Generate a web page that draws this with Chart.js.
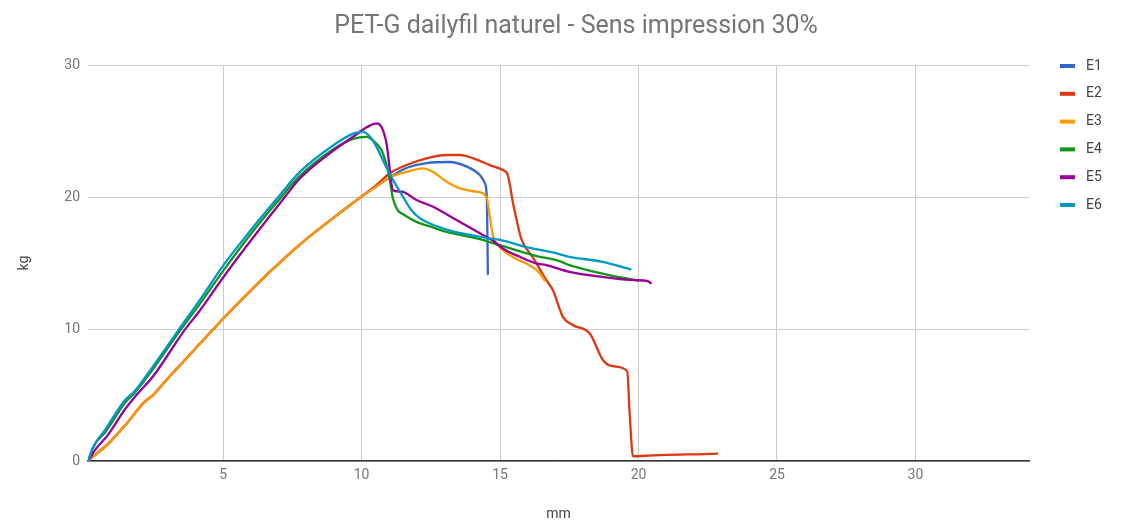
<!DOCTYPE html>
<html>
<head>
<meta charset="utf-8">
<script src="https://cdn.jsdelivr.net/npm/chart.js@4/dist/chart.umd.min.js"></script>
<style>
body { margin: 0; background: #fff; }
</style>
</head>
<body>
<canvas id="myChart" width="1125" height="530"></canvas>
<script>
const chartTitle = 'PET-G dailyfil naturel - Sens impression 30%'
const seriesNames = ['E1', 'E2', 'E3', 'E4', 'E5', 'E6']
const seriesColors = ['#3366cc', '#dc3912', '#ff9900', '#109618', '#990099', '#0099c6']
const xTicks = [5, 10, 15, 20, 25, 30]
const yTicks = [0, 10, 20, 30]

// mm / kg readings per sample
const e1X = [0.12, 0.45, 0.85, 1.5, 2.17, 2.45, 3.0, 3.62, 4.65, 5.4, 6.57, 7.77, 8.97, 9.94, 10.5, 11.02, 11.62, 12.35, 13.18, 13.8, 14.27, 14.45, 14.52, 14.56]
const e1Y = [0, 0.6, 1.3, 2.8, 4.5, 4.95, 6.25, 7.65, 10.0, 11.65, 14.1, 16.4, 18.4, 19.95, 20.75, 21.5, 22.2, 22.57, 22.65, 22.3, 21.66, 21.05, 20.0, 14.1]

const e2X = [0.12, 0.45, 0.85, 1.5, 2.17, 2.45, 3.0, 3.62, 4.65, 5.4, 6.57, 7.77, 8.97, 9.94, 10.5, 11.02, 11.62, 12.34, 13.07, 13.55, 14.03, 14.63, 15.1, 15.28, 15.47, 15.6, 15.77, 16.19, 16.67, 16.91, 17.27, 17.64, 18.24, 18.72, 19.08, 19.59, 19.68, 19.8, 20.52, 21.5, 22.0, 22.87]
const e2Y = [0, 0.6, 1.3, 2.8, 4.5, 4.95, 6.25, 7.65, 10.0, 11.65, 14.1, 16.4, 18.4, 19.95, 20.85, 21.8, 22.42, 22.93, 23.18, 23.18, 22.93, 22.42, 22.04, 21.66, 19.5, 18.25, 16.8, 15.4, 13.7, 12.94, 10.92, 10.29, 9.66, 7.63, 7.18, 6.82, 3.59, 0.36, 0.43, 0.49, 0.5, 0.56]

const e3X = [0.12, 0.45, 0.85, 1.5, 2.17, 2.45, 3.0, 3.62, 4.65, 5.4, 6.57, 7.77, 8.97, 9.94, 10.5, 11.02, 11.62, 12.22, 12.58, 13.07, 13.55, 14.15, 14.51, 14.63, 14.75, 14.99, 15.5, 16.0, 16.3, 16.55, 16.62]
const e3Y = [0, 0.6, 1.3, 2.8, 4.5, 4.95, 6.25, 7.65, 10.0, 11.65, 14.1, 16.4, 18.4, 19.95, 20.75, 21.5, 21.9, 22.17, 21.9, 21.15, 20.65, 20.4, 20.0, 18.5, 17.0, 16.22, 15.4, 14.9, 14.5, 13.9, 13.6]

const e4X = [0.12, 0.35, 0.75, 1.45, 1.8, 2.41, 3.45, 4.16, 5.0, 6.0, 7.1, 7.77, 8.97, 9.69, 10.18, 10.4, 10.77, 11.0, 11.13, 11.3, 11.5, 12.0, 12.5, 13.07, 14.16, 14.99, 16.18, 17.2, 17.5, 18.7, 20.0]
const e4Y = [0, 1.2, 2.2, 4.4, 5.15, 6.8, 9.9, 11.9, 14.4, 17.2, 20.0, 21.6, 23.6, 24.4, 24.56, 24.3, 23.3, 21.5, 19.9, 19.0, 18.7, 18.1, 17.75, 17.36, 16.86, 16.35, 15.6, 15.1, 14.84, 14.2, 13.65]

const e5X = [0.12, 0.4, 0.85, 1.45, 1.81, 2.5, 3.6, 4.16, 5.0, 6.0, 7.23, 7.77, 8.97, 9.69, 10.2, 10.54, 10.72, 10.9, 11.14, 11.44, 11.98, 12.58, 13.43, 14.4, 14.74, 15.1, 15.71, 16.3, 16.67, 17.5, 18.7, 19.9, 20.3, 20.47]
const e5Y = [0, 0.9, 2.0, 3.9, 4.85, 6.5, 9.9, 11.4, 13.9, 16.7, 20.0, 21.4, 23.5, 24.56, 25.3, 25.58, 25.3, 24.06, 20.5, 20.4, 19.77, 19.26, 18.25, 17.1, 16.7, 16.1, 15.47, 14.97, 14.84, 14.33, 13.95, 13.7, 13.65, 13.45]

const e6X = [0.12, 0.31, 0.73, 1.45, 1.81, 2.41, 3.38, 4.16, 5.0, 6.0, 6.99, 7.77, 8.97, 9.69, 10.05, 10.4, 11.0, 11.5, 11.8, 12.1, 12.7, 13.3, 14.5, 15.1, 15.96, 16.9, 17.5, 18.7, 19.74]
const e6Y = [0, 1.06, 2.33, 4.6, 5.3, 7.0, 9.9, 12.2, 14.8, 17.5, 20.0, 21.9, 23.9, 24.8, 24.94, 24.3, 21.8, 20.0, 19.0, 18.4, 17.8, 17.4, 16.9, 16.7, 16.2, 15.8, 15.47, 15.09, 14.5]

const seriesX = [e1X, e2X, e3X, e4X, e5X, e6X]
const seriesY = [e1Y, e2Y, e3Y, e4Y, e5Y, e6Y]

// title + legend drawn at the places the original chart uses
const sideBits = {
    id: 'sideBits',
    afterDraw(chart) {
        const ctx = chart.ctx
        ctx.save()
        ctx.fillStyle = '#757575'
        ctx.font = '25px Roboto'
        ctx.textAlign = 'center'
        ctx.textBaseline = 'middle'
        ctx.fillText(chartTitle, 576, 27)

        ctx.font = '14px Roboto'
        ctx.textAlign = 'left'
        for (let i = 0; i < seriesNames.length; i++) {
            let y = 66 + i * 27.8
            ctx.fillStyle = seriesColors[i]
            ctx.fillRect(1060, y - 2, 15, 4)
            ctx.fillStyle = '#444'
            ctx.fillText(seriesNames[i], 1086, y)
        }
        ctx.restore()
    }
}

let datasets = []
for (let i = 0; i < seriesNames.length; i++) {
    let points = seriesX[i].map((x, j) => ({ x: x, y: seriesY[i][j] }))
    datasets.push({
        label: seriesNames[i],
        data: points,
        borderColor: seriesColors[i],
        backgroundColor: seriesColors[i],
        borderWidth: 2.3,
        pointRadius: 0,
        cubicInterpolationMode: 'monotone',
        order: seriesNames.length - i
    })
}

let ctx = document.getElementById('myChart').getContext('2d')
let myChart = new Chart(ctx, {
    type: 'line',
    data: { datasets: datasets },
    plugins: [sideBits],
    options: {
        responsive: false,
        animation: false,
        layout: { padding: { top: 65, right: 96, left: 0, bottom: 0 } },
        plugins: {
            legend: { display: false },
            title: { display: false },
            tooltip: { enabled: false }
        },
        scales: {
            x: {
                type: 'linear',
                min: 0.12,
                max: 34.1,
                afterBuildTicks: scale => { scale.ticks = xTicks.map(v => ({ value: v })) },
                afterFit: scale => { scale.height = 69 },
                grid: { color: '#cccccc', drawTicks: false },
                border: { color: '#333333', width: 1.5 },
                ticks: { color: '#757575', font: { family: 'Roboto', size: 14 }, padding: 6 },
                title: { display: true, text: 'mm', color: '#444', font: { family: 'Roboto', size: 14 }, padding: { top: 7, bottom: 7 } }
            },
            y: {
                min: 0,
                max: 30,
                afterBuildTicks: scale => { scale.ticks = yTicks.map(v => ({ value: v })) },
                afterFit: scale => { scale.width = 88 },
                grid: { color: '#cccccc', drawTicks: false },
                border: { display: false },
                ticks: { color: '#757575', font: { family: 'Roboto', size: 14 }, padding: 8 },
                title: { display: true, text: 'kg', color: '#444', font: { family: 'Roboto', size: 14 }, padding: { top: 16, bottom: 16 } }
            }
        }
    }
})
</script>
</body>
</html>
